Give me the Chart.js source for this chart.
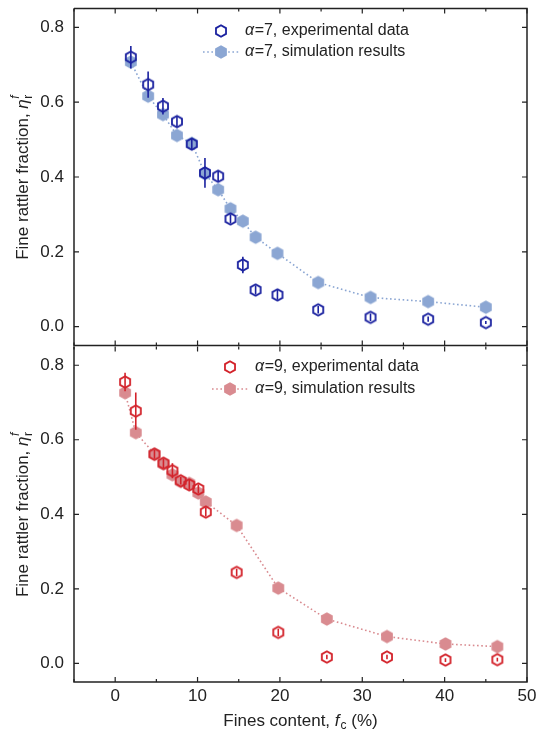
<!DOCTYPE html>
<html><head><meta charset="utf-8">
<script src="https://cdn.jsdelivr.net/npm/chart.js@4.4.0/dist/chart.umd.min.js"></script>
<style>
html,body{margin:0;padding:0;background:#fff;}
#wrap{position:relative;width:537px;height:736px;background:#fff;}
#c1{position:absolute;left:0;top:0;width:537px;height:354px;}
#c2{position:absolute;left:0;top:338px;width:537px;height:398px;}
</style></head><body>
<div id="wrap"><canvas id="c1" width="537" height="354"></canvas><canvas id="c2" width="537" height="398"></canvas></div>
<script>
// ---------- data ----------
const a7ExpX   = [1.9, 4.0, 5.8, 7.5, 9.3, 10.9, 12.5, 14.0, 15.5, 17.05, 19.7, 24.65, 31.0, 38.0, 45.0];
const a7ExpY   = [0.720, 0.647, 0.589, 0.548, 0.488, 0.411, 0.402, 0.288, 0.165, 0.098, 0.085, 0.045, 0.025, 0.020, 0.011];
const a7ExpErr = [0.030, 0.035, 0.022, 0.015, 0.015, 0.040, 0.015, 0.012, 0.022, 0.012, 0.013, 0.010, 0.010, 0.007, 0.004];
const a7SimX   = [1.9, 4.0, 5.8, 7.5, 9.3, 10.9, 12.5, 14.0, 15.5, 17.05, 19.7, 24.65, 31.0, 38.0, 45.0];
const a7SimY   = [0.707, 0.616, 0.567, 0.511, 0.490, 0.409, 0.366, 0.315, 0.282, 0.239, 0.196, 0.118, 0.078, 0.067, 0.052];

const a9ExpX   = [1.2, 2.5, 4.77, 5.86, 6.95, 7.96, 9.0, 10.1, 11.0, 14.75, 19.8, 25.7, 33.0, 40.1, 46.4];
const a9ExpY   = [0.755, 0.677, 0.561, 0.537, 0.517, 0.490, 0.479, 0.468, 0.406, 0.244, 0.083, 0.017, 0.017, 0.009, 0.010];
const a9ExpErr = [0.025, 0.050, 0.012, 0.013, 0.020, 0.010, 0.013, 0.012, 0.012, 0.010, 0.010, 0.006, 0.006, 0.005, 0.005];
const a9SimX   = [1.2, 2.5, 4.77, 5.86, 6.95, 7.96, 9.0, 10.1, 11.0, 14.75, 19.8, 25.7, 33.0, 40.1, 46.4];
const a9SimY   = [0.726, 0.619, 0.562, 0.535, 0.506, 0.488, 0.483, 0.457, 0.433, 0.370, 0.202, 0.119, 0.072, 0.052, 0.045];

const xTickValues = [0, 10, 20, 30, 40, 50];
const xMinorValues = [-5, 5, 15, 25, 35, 45];
const yTickValues = [0.0, 0.2, 0.4, 0.6, 0.8];

const labels7 = ['=7, experimental data', '=7, simulation results'];
const labels9 = ['=9, experimental data', '=9, simulation results'];

// ---------- styles ----------
const FONT = '"Liberation Sans", Arial, Helvetica, sans-serif';
const TXT = '#222';
const BLUE_EXP = '#1b22a0', BLUE_SIM = '#8ba6d3';
const RED_EXP = '#d3222a', RED_SIM = '#d98b90';

function hexCanvas(r, fill, stroke, lw) {
  const s = Math.ceil(2 * r + lw + 2);
  const c = document.createElement('canvas');
  c.width = s; c.height = s;
  const ctx = c.getContext('2d');
  ctx.beginPath();
  for (let k = 0; k < 6; k++) {
    const a = -Math.PI / 2 + k * Math.PI / 3;
    const px = s / 2 + r * Math.cos(a), py = s / 2 + r * Math.sin(a);
    k ? ctx.lineTo(px, py) : ctx.moveTo(px, py);
  }
  ctx.closePath();
  if (fill) { ctx.fillStyle = fill; ctx.fill(); }
  if (stroke) { ctx.strokeStyle = stroke; ctx.lineWidth = lw; ctx.stroke(); }
  return c;
}

const framePlugin = {
  id: 'frame',
  afterDraw(chart, args, o) {
    const { ctx, chartArea: a, scales: { x, y } } = chart;
    ctx.save();
    ctx.strokeStyle = TXT; ctx.lineWidth = 1.5;
    ctx.beginPath();
    ctx.moveTo(a.left, a.top); ctx.lineTo(a.left, a.bottom); ctx.lineTo(a.right, a.bottom); ctx.lineTo(a.right, a.top);
    if (!o.skipTop) ctx.lineTo(a.left, a.top);
    ctx.stroke();
    ctx.lineWidth = 1.2;
    ctx.beginPath();
    const tick = (v, len) => {
      const px = x.getPixelForValue(v);
      ctx.moveTo(px, a.bottom); ctx.lineTo(px, a.bottom - len);
      ctx.moveTo(px, a.top); ctx.lineTo(px, a.top + len);
    };
    xTickValues.forEach(v => tick(v, 5));
    xMinorValues.forEach(v => tick(v, 3));
    yTickValues.forEach(v => {
      const py = y.getPixelForValue(v);
      ctx.moveTo(a.left, py); ctx.lineTo(a.left + 5, py);
      ctx.moveTo(a.right, py); ctx.lineTo(a.right - 5, py);
    });
    ctx.stroke();
    ctx.restore();
  }
};

const errPlugin = {
  id: 'errbars',
  afterDatasetsDraw(chart, args, opts) {
    const { ctx, scales: { x, y } } = chart;
    const ds = chart.data.datasets[0];
    ctx.save();
    ctx.strokeStyle = ds.borderColor; ctx.lineWidth = 1.6;
    ctx.beginPath();
    ds.data.forEach((p, i) => {
      const e = opts.err[i];
      const px = x.getPixelForValue(p.x);
      ctx.moveTo(px, y.getPixelForValue(p.y - e));
      ctx.lineTo(px, y.getPixelForValue(p.y + e));
    });
    ctx.stroke();
    ctx.restore();
  }
};

const legendPlugin = {
  id: 'hexlegend',
  afterDraw(chart, args, o) {
    const { ctx } = chart;
    const [d0, d1] = chart.data.datasets;
    ctx.save();
    ctx.textBaseline = 'middle';
    ctx.fillStyle = TXT;
    ctx.drawImage(d0.pointStyle, o.mx - d0.pointStyle.width / 2, o.y1 - d0.pointStyle.height / 2);
    ctx.strokeStyle = d1.borderColor; ctx.lineWidth = d1.borderWidth;
    ctx.setLineDash(d1.borderDash);
    ctx.beginPath(); ctx.moveTo(o.l0, o.y2); ctx.lineTo(o.l1, o.y2); ctx.stroke();
    ctx.setLineDash([]);
    ctx.drawImage(d1.pointStyle, o.mx - d1.pointStyle.width / 2, o.y2 - d1.pointStyle.height / 2);
    [[d0.label, o.y1], [d1.label, o.y2]].forEach(([t, yy]) => {
      ctx.font = 'italic 16px ' + FONT;
      ctx.fillText('\u03b1', o.tx, yy);
      const w = ctx.measureText('\u03b1').width;
      ctx.font = '16px ' + FONT;
      ctx.fillText(t, o.tx + w + 0.5, yy);
    });
    ctx.restore();
  }
};

const titlePlugin = {
  id: 'titles',
  afterDraw(chart, args, o) {
    const { ctx, chartArea: a } = chart;
    const f = '17px ' + FONT, fi = 'italic 17px ' + FONT, fs = '12px ' + FONT, fsi = 'italic 12px ' + FONT;
    ctx.save();
    ctx.fillStyle = TXT;
    ctx.textBaseline = 'alphabetic';
    ctx.save();
    ctx.translate(o.yx, (a.top + a.bottom) / 2);
    ctx.rotate(-Math.PI / 2);
    const t1 = 'Fine rattler fraction, ';
    ctx.font = f; const w1 = ctx.measureText(t1).width;
    ctx.font = fi; const w2 = ctx.measureText('\u03b7').width;
    ctx.font = fs; const w3 = ctx.measureText('r').width;
    let xx = -(w1 + w2 + 1 + w3) / 2;
    const b = 6;
    ctx.font = f; ctx.fillText(t1, xx, b); xx += w1;
    ctx.font = fi; ctx.fillText('\u03b7', xx, b); xx += w2 + 0.5;
    ctx.font = fs; ctx.fillText('r', xx, b + 4);
    ctx.font = fsi; ctx.fillText('f', xx, b - 9);
    ctx.restore();
    if (o.xTitle) {
      const p1 = 'Fines content, ', p3 = ' (%)';
      ctx.font = f; const q1 = ctx.measureText(p1).width, q3 = ctx.measureText(p3).width;
      ctx.font = fi; const q2 = ctx.measureText('f').width;
      ctx.font = fs; const qc = ctx.measureText('c').width;
      let x0 = (a.left + a.right) / 2 - (q1 + q2 + qc + 1 + q3) / 2;
      const by = o.xy;
      ctx.font = f; ctx.fillText(p1, x0, by); x0 += q1;
      ctx.font = fi; ctx.fillText('f', x0, by); x0 += q2 + 1;
      ctx.font = fs; ctx.fillText('c', x0, by + 3); x0 += qc;
      ctx.font = f; ctx.fillText(p3, x0, by);
    }
    ctx.restore();
  }
};

function makeChart(canvas, cfg) {
  return new Chart(canvas, {
    type: 'scatter',
    data: {
      datasets: [
        {
          label: cfg.labels[0],
          data: cfg.expX.map((v, i) => ({ x: v, y: cfg.expY[i] })),
          pointStyle: hexCanvas(5.8, null, cfg.expColor, 1.8),
          borderColor: cfg.expColor, backgroundColor: cfg.expColor,
          pointRadius: 6, showLine: false
        },
        {
          label: cfg.labels[1],
          data: cfg.simX.map((v, i) => ({ x: v, y: cfg.simY[i] })),
          pointStyle: hexCanvas(6.8, cfg.simColor, null, 0),
          borderColor: cfg.simColor, backgroundColor: cfg.simColor,
          borderWidth: 1.6, borderDash: [1.6, 2.6],
          pointRadius: 7, showLine: true, tension: 0
        }
      ]
    },
    options: {
      responsive: false, animation: false, devicePixelRatio: 1,
      layout: { padding: cfg.padding },
      events: [],
      plugins: {
        legend: { display: false }, tooltip: { enabled: false },
        errbars: { err: cfg.err },
        hexlegend: cfg.legend,
        titles: cfg.titles,
        frame: { skipTop: cfg.skipTop }
      },
      scales: {
        x: {
          type: 'linear', min: -5, max: 50, display: cfg.showX,
          grid: { display: false, drawTicks: false }, border: { display: false },
          ticks: { font: { size: 17, family: FONT }, color: TXT, padding: 4, maxRotation: 0 },
          afterBuildTicks: s => { s.ticks = xTickValues.map(v => ({ value: v })); },
          afterFit: s => { s.height = cfg.xH; s.paddingLeft = 0; s.paddingRight = 0; s.paddingTop = 0; s.paddingBottom = 0; }
        },
        y: {
          type: 'linear', min: -0.05, max: 0.85,
          grid: { display: false, drawTicks: false }, border: { display: false },
          ticks: { font: { size: 17, family: FONT }, color: TXT, padding: 10, callback: v => Number(v).toFixed(1) },
          afterBuildTicks: s => { s.ticks = yTickValues.map(v => ({ value: v })); },
          afterFit: s => { s.width = 74; s.paddingTop = 0; s.paddingBottom = 0; s.paddingLeft = 0; s.paddingRight = 0; }
        }
      }
    },
    plugins: [errPlugin, framePlugin, legendPlugin, titlePlugin]
  });
}

makeChart(document.getElementById('c1'), {
  expX: a7ExpX, expY: a7ExpY, err: a7ExpErr, simX: a7SimX, simY: a7SimY,
  labels: labels7, expColor: BLUE_EXP, simColor: BLUE_SIM,
  padding: { top: 8, right: 10, bottom: 2, left: 0 }, showX: false, xH: 0, skipTop: false,
  legend: { mx: 221, tx: 245, l0: 203, l1: 239, y1: 31, y2: 52 },
  titles: { yx: 22, xTitle: false }
});
makeChart(document.getElementById('c2'), {
  expX: a9ExpX, expY: a9ExpY, err: a9ExpErr, simX: a9SimX, simY: a9SimY,
  labels: labels9, expColor: RED_EXP, simColor: RED_SIM,
  padding: { top: 6, right: 10, bottom: 0, left: 0 }, showX: true, xH: 54, skipTop: true,
  legend: { mx: 230, tx: 255, l0: 212, l1: 248, y1: 29, y2: 51 },
  titles: { yx: 22, xTitle: true, xy: 388 }
});
</script>
</body></html>
